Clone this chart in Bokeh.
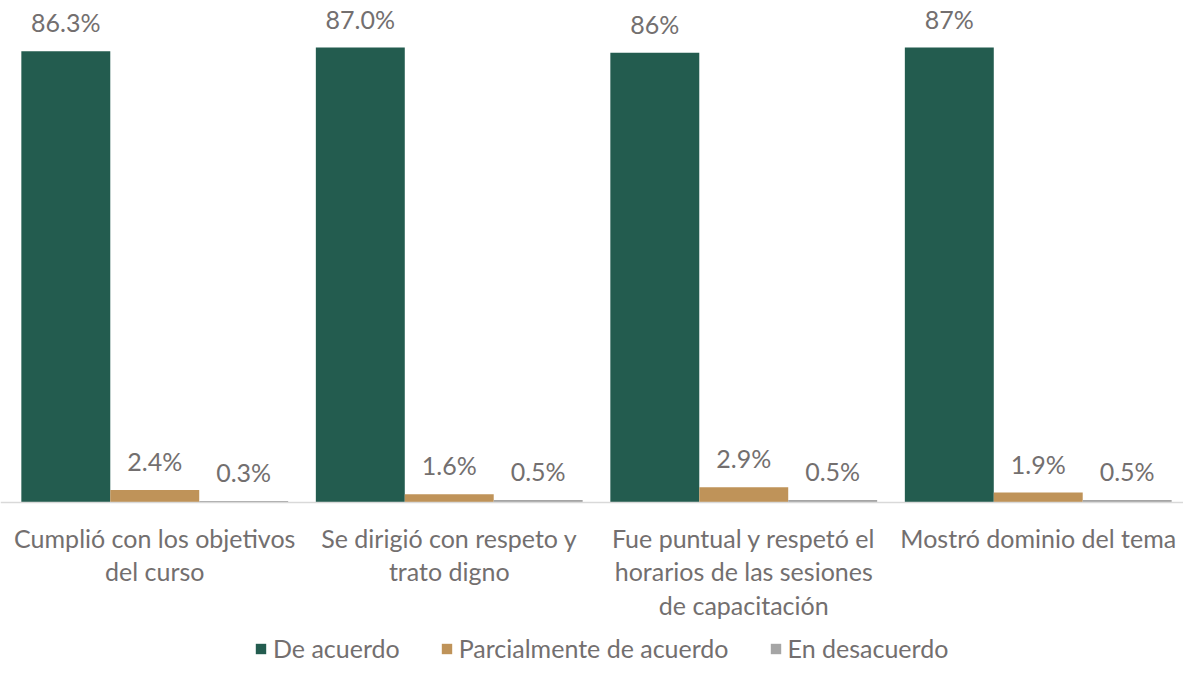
from bokeh.plotting import figure
from bokeh.models import Range1d, Span, Legend, LegendItem, ColumnDataSource
from bokeh.transform import dodge
from bokeh.core.properties import value
from bokeh.embed import file_html
from bokeh.resources import INLINE

categories = [
    "Cumplió con los objetivos\ndel curso",
    "Se dirigió con respeto y\ntrato digno",
    "Fue puntual y respetó el\nhorarios de las sesiones\nde capacitación",
    "Mostró dominio del tema",
]
series_names = ["De acuerdo", "Parcialmente de acuerdo", "En desacuerdo"]
de_acuerdo = [86.3, 87.0, 86.0, 87.0]
parcial = [2.4, 1.6, 2.9, 1.9]
desacuerdo = [0.3, 0.5, 0.5, 0.5]
de_acuerdo_labels = ["86.3%", "87.0%", "86%", "87%"]
parcial_labels = ["2.4%", "1.6%", "2.9%", "1.9%"]
desacuerdo_labels = ["0.3%", "0.5%", "0.5%", "0.5%"]

colors = ["#235C4F", "#BF9359", "#A5A5A5"]
text_color = "#736F6F"
FONT = "Lato"
FS = "25px"

src = ColumnDataSource(dict(
    x=[i + 0.5 for i in range(len(categories))],
    cat=categories,
    a=de_acuerdo, b=parcial, c=desacuerdo,
    la=de_acuerdo_labels, lb=parcial_labels, lc=desacuerdo_labels,
))

W, H = 1183, 663
group_px = 294.5
px_per_unit = 455 / 87.0
base_y = 502
x0 = -7 / group_px
p = figure(width=W, height=H, output_backend="svg", toolbar_location=None,
           x_range=Range1d(x0, x0 + W / group_px),
           y_range=Range1d(-(H - base_y) / px_per_unit, base_y / px_per_unit),
           min_border=0)
p.axis.visible = False
p.grid.visible = False
p.outline_line_color = None
p.background_fill_color = "white"
p.border_fill_color = "white"

bw = 0.302
offs = [-bw, 0, bw]
cols = ["a", "b", "c"]
lcols = ["la", "lb", "lc"]
renderers = []
for off, col, lcol, color in zip(offs, cols, lcols, colors):
    r = p.vbar(x=dodge("x", off, range=p.x_range), top=col, width=bw, bottom=0,
               source=src, fill_color=color, line_color=None)
    renderers.append(r)
    p.text(x=dodge("x", off, range=p.x_range), y=col, text=lcol, source=src,
           text_align="center", text_baseline="alphabetic", y_offset=-29,
           text_font=value(FONT), text_font_size=FS, text_color=text_color)

p.add_layout(Span(location=0, dimension="width", line_color="#D9D9D9", line_width=1.5))

p.text(x="x", y=0, text="cat", source=src, text_align="center", text_baseline="top",
       y_offset=20, text_font=value(FONT), text_font_size=FS, text_color=text_color,
       text_line_height=1.12)

legend = Legend(items=[LegendItem(label=n, renderers=[r]) for n, r in zip(series_names, renderers)],
                location=(254, 0), orientation="horizontal",
                label_text_font=FONT, label_text_font_size=FS, label_text_color=text_color,
                glyph_width=13, glyph_height=13, label_standoff=6, spacing=40,
                border_line_color=None, background_fill_alpha=0, margin=0, padding=0)
p.add_layout(legend)

open("out.html", "w").write(file_html(p, INLINE))
